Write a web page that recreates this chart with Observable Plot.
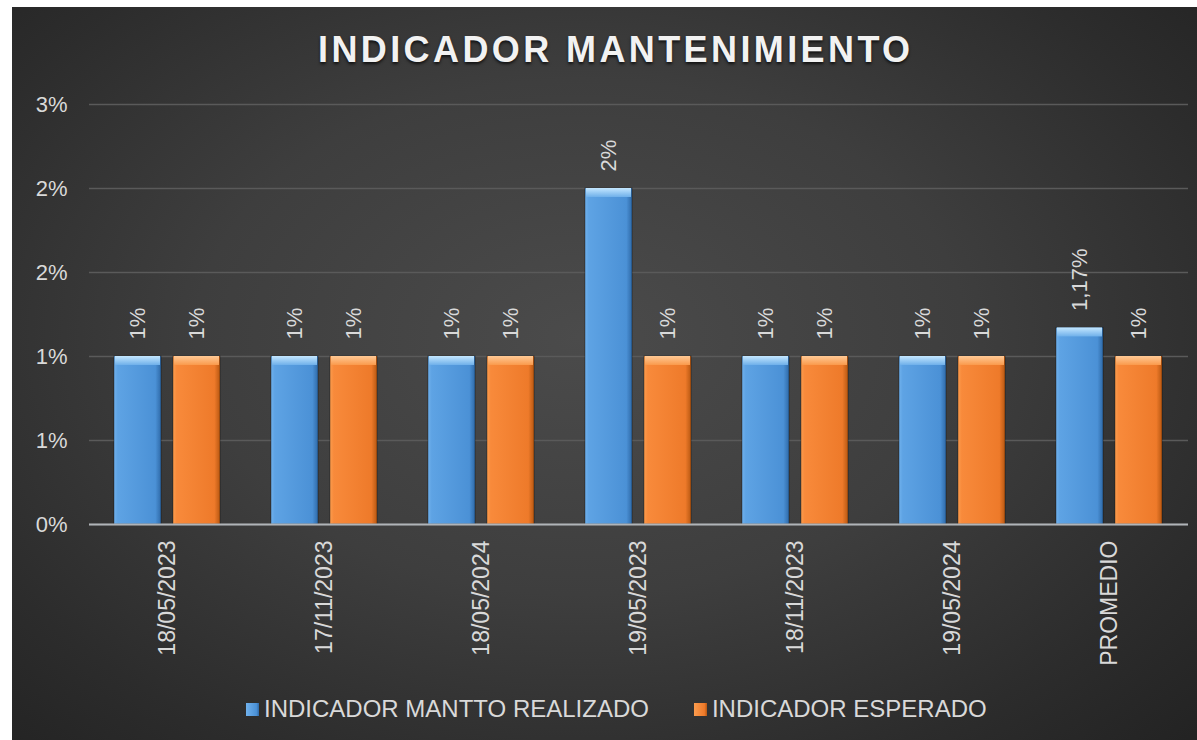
<!DOCTYPE html>
<html>
<head>
<meta charset="utf-8">
<script src="https://cdn.jsdelivr.net/npm/d3@7"></script>
<script src="https://cdn.jsdelivr.net/npm/@observablehq/plot@0.6"></script>
<style>
html,body{margin:0;padding:0;background:#fff;width:1197px;height:740px;overflow:hidden;font-family:"Liberation Sans",Arial,sans-serif;}
#panel{position:absolute;left:12px;top:7px;width:1185px;height:733px;overflow:hidden;
  background: radial-gradient(ellipse 72% 78% at 48% 45%, #4b4b4b 0%, #3e3e3e 45%, #2c2c2c 80%, #232323 100%);}
#title{position:absolute;left:306px;top:25px;font-size:36px;line-height:36px;font-weight:bold;letter-spacing:3.4px;color:#f2f2f2;text-shadow:0 2px 3px rgba(0,0,0,.7);white-space:nowrap;}
#chart{position:absolute;left:0;top:83px;}
#legend{position:absolute;left:234px;top:690px;display:flex;align-items:center;color:#d9d9d9;font-size:24px;line-height:24px;white-space:nowrap;}
.item{display:flex;align-items:center;margin-right:45px;}
.sw{width:13px;height:13px;margin-right:5px;}
#defs{position:absolute;width:0;height:0;}
</style>
</head>
<body>
<svg id="defs" width="0" height="0">
  <defs>
    <linearGradient id="gradB" x1="0" y1="0" x2="1" y2="0">
      <stop offset="0" stop-color="#70b1ec"/>
      <stop offset="0.08" stop-color="#5ea3e4"/>
      <stop offset="0.88" stop-color="#4b91d6"/>
      <stop offset="1" stop-color="#2f6aa8"/>
    </linearGradient>
    <linearGradient id="gradO" x1="0" y1="0" x2="1" y2="0">
      <stop offset="0" stop-color="#fb9c4e"/>
      <stop offset="0.08" stop-color="#f88a3b"/>
      <stop offset="0.88" stop-color="#ee7a2a"/>
      <stop offset="1" stop-color="#b85812"/>
    </linearGradient>
    <linearGradient id="bevB" x1="0" y1="0" x2="0" y2="1">
      <stop offset="0" stop-color="#c4e7ff"/>
      <stop offset="1" stop-color="#6fb0ea"/>
    </linearGradient>
    <linearGradient id="bevO" x1="0" y1="0" x2="0" y2="1">
      <stop offset="0" stop-color="#ffc995"/>
      <stop offset="1" stop-color="#fa9a4c"/>
    </linearGradient>
  </defs>
</svg>
<div id="panel">
  <div id="title">INDICADOR MANTENIMIENTO</div>
  <div id="chart"></div>
  <div id="legend"></div>
</div>
<script>
const categories = ["18/05/2023","17/11/2023","18/05/2024","19/05/2023","18/11/2023","19/05/2024","PROMEDIO"];
const series = ["INDICADOR MANTTO REALIZADO","INDICADOR ESPERADO"];
const realizado = [0.01,0.01,0.01,0.02,0.01,0.01,0.0117];
const esperado = [0.01,0.01,0.01,0.01,0.01,0.01,0.01];
const realizadoLabels = ["1%","1%","1%","2%","1%","1%","1,17%"];
const esperadoLabels = ["1%","1%","1%","1%","1%","1%","1%"];
const yTicks = [0,0.005,0.01,0.015,0.02,0.025];
const yTickLabels = ["0%","1%","1%","2%","2%","3%"];
const swatchFills = ["linear-gradient(90deg,#70b1ec,#4b91d6 80%,#2f6aa8)","linear-gradient(90deg,#fb9c4e,#ee7a2a 80%,#b85812)"];

const rowsR = categories.map((c,i)=>({cat:c, series:series[0], value:realizado[i], label:realizadoLabels[i]}));
const rowsE = categories.map((c,i)=>({cat:c, series:series[1], value:esperado[i], label:esperadoLabels[i]}));
const rows = rowsR.concat(rowsE);

const chart = Plot.plot({
  width:1185, height:584,
  marginLeft:76, marginRight:9, marginTop:14, marginBottom:150,
  style:{background:"transparent", fontFamily:'"Liberation Sans",Arial,sans-serif', color:"#d9d9d9", overflow:"visible"},
  fx:{domain:categories, padding:0, axis:null, label:null},
  x:{domain:series, paddingInner:0.2, paddingOuter:0.41, axis:null},
  y:{domain:[0,0.025], axis:null},
  marks:[
    Plot.gridY(yTicks,{stroke:"#5a5a5a", strokeOpacity:1, strokeWidth:1.3}),
    Plot.barY(rowsR,{fx:"cat", x:"series", y:"value", fill:"url(#gradB)", stroke:"rgba(0,0,0,0.35)", strokeWidth:1}),
    Plot.barY(rowsE,{fx:"cat", x:"series", y:"value", fill:"url(#gradO)", stroke:"rgba(0,0,0,0.35)", strokeWidth:1}),
    Plot.barY(rowsR,{fx:"cat", x:"series", y1:"value", y2:"value", insetBottom:-9, insetLeft:1, insetRight:1, fill:"url(#bevB)"}),
    Plot.barY(rowsE,{fx:"cat", x:"series", y1:"value", y2:"value", insetBottom:-9, insetLeft:1, insetRight:1, fill:"url(#bevO)"}),
    Plot.ruleY([0],{stroke:"#b0b4b8", strokeWidth:2}),
    Plot.text(rows,{fx:"cat", x:"series", y:"value", text:"label", rotate:-90, textAnchor:"start", dy:-17, fontSize:22, fill:"#d9d9d9"}),
    Plot.axisY(yTicks,{tickFormat:d=>yTickLabels[yTicks.indexOf(d)], tickSize:0, tickPadding:22, fontSize:22, fill:"#d9d9d9", label:null}),
    Plot.axisFx({anchor:"bottom", tickRotate:-90, tickSize:0, tickPadding:16, fontSize:23, fill:"#d9d9d9", label:null})
  ]
});
document.getElementById("chart").appendChild(chart);

const legend = document.getElementById("legend");
series.forEach((s,i)=>{
  const item = document.createElement("div");
  item.className = "item";
  const sw = document.createElement("span");
  sw.className = "sw";
  sw.style.background = swatchFills[i];
  const t = document.createElement("span");
  t.textContent = s;
  item.appendChild(sw); item.appendChild(t);
  legend.appendChild(item);
});
</script>
</body>
</html>
